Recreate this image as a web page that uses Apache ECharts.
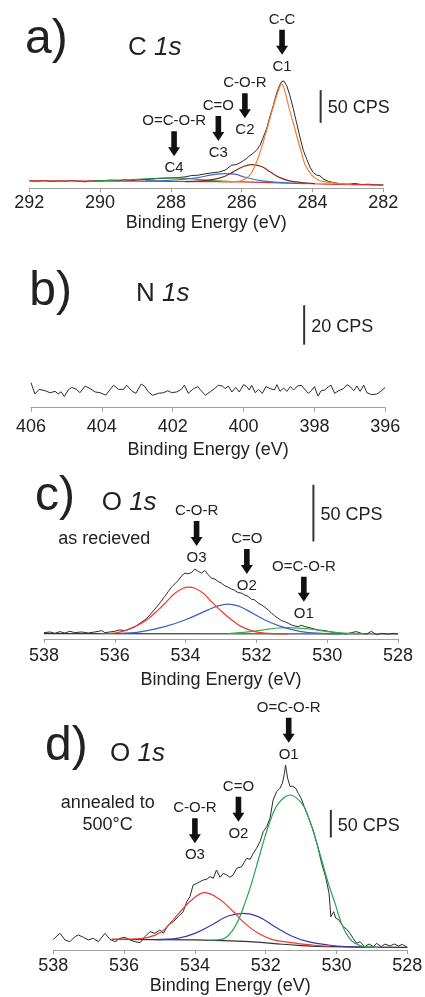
<!DOCTYPE html>
<html>
<head>
<meta charset="utf-8">
<script src="https://cdn.jsdelivr.net/npm/echarts@6.0.0/dist/echarts.min.js"></script>
<style>
  html, body { margin: 0; padding: 0; background: #fff; }
  #chart { width: 425px; height: 997px; }
</style>
</head>
<body>
<div id="chart"></div>
<script>
// ---- a) C 1s : [binding energy eV, counts per second] ----
var cSpectrum = [[292.00, 11.2], [291.75, 10.7], [291.56, 11.7], [291.37, 10.2], [291.18, 11.2], [290.99, 10.7], [290.80, 11.7], [290.62, 10.7], [290.43, 9.7], [290.24, 11.2], [290.05, 10.7], [289.86, 11.7], [289.67, 12.2], [289.49, 11.2], [289.30, 12.7], [289.11, 11.7], [288.92, 12.7], [288.73, 13.3], [288.54, 13.8], [288.36, 14.8], [288.17, 15.3], [287.98, 15.8], [287.79, 16.3], [287.60, 17.3], [287.41, 19.4], [287.23, 19.9], [287.04, 21.9], [286.85, 23.4], [286.66, 24.5], [286.47, 27.5], [286.34, 33], [286.28, 35.2], [286.14, 36.2], [286.05, 39], [285.95, 42], [285.86, 45.4], [285.77, 50], [285.71, 52], [285.58, 58], [285.48, 66], [285.39, 78], [285.29, 92], [285.20, 110], [285.10, 128], [285.01, 146], [284.94, 156], [284.87, 163], [284.81, 164], [284.73, 157], [284.64, 142], [284.54, 121], [284.45, 100], [284.35, 77], [284.26, 58], [284.16, 44], [284.07, 32], [283.98, 24], [283.88, 20], [283.79, 19], [283.69, 14], [283.55, 10.5], [283.41, 8.5], [283.37, 7.6], [283.18, 6.6], [282.99, 6.1], [282.80, 7.1], [282.61, 5.6], [282.42, 6.1], [282.24, 5.1], [282.00, 5.1]];
var cPeakC1 = [[286.6, 9.8], [286.24, 10.0], [286.0, 11.5], [285.77, 20], [285.62, 35], [285.5, 52], [285.39, 71], [285.25, 97], [285.12, 122], [284.97, 148], [284.87, 159], [284.78, 148], [284.66, 122], [284.53, 97], [284.40, 71], [284.30, 52], [284.21, 36], [284.02, 20], [283.85, 13], [283.69, 10], [283.22, 7], [282.9, 6.2]];
var cPeakC2 = [[287.60, 10.2], [287.13, 11.2], [286.76, 13.8], [286.47, 18.3], [286.24, 25.0], [286.00, 32.1], [285.72, 36.2], [285.44, 33.1], [285.20, 25.0], [284.97, 17.3], [284.68, 11.7], [284.31, 8.7], [283.93, 7.1]];
var cPeakC3 = [[288.73, 11.2], [288.17, 11.7], [287.70, 13.3], [287.23, 16.3], [286.85, 20.4], [286.47, 22.4], [286.19, 21.4], [285.91, 16.8], [285.53, 12.2], [285.15, 9.7], [284.68, 8.2], [284.21, 7.1]];
var cPeakC4 = [[290.2, 11.0], [289.77, 11.9], [289.11, 13.3], [288.54, 14.8], [287.98, 15.8], [287.51, 14.8], [287.13, 12.7], [286.76, 11.2], [286.28, 10.2]];
var cBackground = [[292, 11.2], [289, 10.8], [287, 10.2], [286, 9.6], [285.2, 8.6], [284.6, 7.6], [284.0, 6.8], [283.2, 6.0], [282, 4.8]];
var cArrowEnergy = [284.86, 285.91, 286.66, 287.91];
var cArrowTip = [204, 107, 72, 49];
var cArrowTop = ['C-C', 'C-O-R', 'C=O', 'O=C-O-R'];
var cArrowBottom = ['C1', 'C2', 'C3', 'C4'];

// ---- b) N 1s ----
var nSpectrum = [[406.00, 12.7], [405.89, 7.0], [405.77, 9.3], [405.60, 8.6], [405.46, 7.6], [405.32, 8.3], [405.23, 7.0], [405.15, 8.1], [405.06, 5.6], [404.95, 9.0], [404.85, 10.3], [404.71, 9.3], [404.62, 7.6], [404.47, 11.0], [404.33, 9.7], [404.19, 8.0], [404.05, 7.6], [403.89, 6.4], [403.67, 11.4], [403.53, 9.3], [403.39, 9.3], [403.30, 11.4], [403.16, 8.6], [403.04, 7.3], [402.89, 12.0], [402.80, 11.0], [402.69, 8.1], [402.57, 6.3], [402.40, 7.3], [402.26, 7.6], [402.14, 8.6], [402.03, 7.6], [401.89, 8.0], [401.76, 9.3], [401.67, 11.4], [401.56, 7.3], [401.41, 9.7], [401.29, 10.7], [401.23, 9.3], [401.08, 6.3], [400.94, 8.1], [400.82, 9.7], [400.71, 11.4], [400.60, 11.0], [400.52, 9.7], [400.43, 11.0], [400.33, 8.0], [400.22, 10.3], [400.12, 8.0], [400.00, 11.7], [399.91, 10.7], [399.84, 9.0], [399.77, 11.4], [399.67, 7.6], [399.58, 9.3], [399.47, 7.3], [399.37, 10.7], [399.25, 9.7], [399.13, 9.0], [399.06, 11.7], [398.97, 8.3], [398.87, 10.0], [398.78, 8.3], [398.68, 10.7], [398.59, 9.0], [398.48, 11.0], [398.37, 11.4], [398.26, 9.0], [398.17, 7.3], [398.07, 9.0], [398.00, 10.7], [397.90, 5.9], [397.81, 8.6], [397.71, 9.0], [397.60, 10.7], [397.53, 11.4], [397.43, 7.3], [397.32, 8.6], [397.18, 9.7], [397.08, 11.7], [396.99, 10.7], [396.89, 8.6], [396.80, 11.0], [396.71, 8.3], [396.61, 11.4], [396.52, 7.6], [396.38, 6.6], [396.24, 6.9], [396.11, 8.6], [396.00, 10.3]];

// ---- c) O 1s as recieved ----
var oSpectrum = [[538.00, 5.6], [537.83, 6.2], [537.69, 5.0], [537.55, 6.5], [537.41, 5.3], [537.27, 6.8], [537.13, 5.6], [536.94, 6.2], [536.75, 5.3], [536.56, 6.2], [536.37, 7.4], [536.28, 5.6], [536.14, 6.2], [536.00, 6.8], [535.86, 8.0], [535.71, 7.4], [535.57, 9.1], [535.43, 10.9], [535.29, 13.9], [535.15, 16.8], [535.01, 21.2], [534.87, 26.3], [534.73, 31.6], [534.59, 37.5], [534.49, 41.9], [534.40, 45.7], [534.30, 48.7], [534.21, 51.6], [534.11, 55.8], [534.02, 58.1], [533.93, 57.5], [533.83, 58.7], [533.74, 61.7], [533.64, 59.6], [533.55, 58.1], [533.46, 60.5], [533.36, 56.6], [533.27, 53.7], [533.17, 52.8], [533.08, 50.7], [532.99, 49.3], [532.89, 46.9], [532.80, 45.7], [532.70, 44.0], [532.61, 42.8], [532.52, 41.0], [532.42, 40.4], [532.33, 38.9], [532.23, 37.5], [532.14, 35.1], [532.05, 34.5], [531.95, 31.6], [531.86, 30.1], [531.76, 28.0], [531.67, 25.7], [531.57, 22.7], [531.48, 20.4], [531.39, 18.3], [531.29, 16.2], [531.20, 15.3], [531.10, 13.9], [531.01, 12.4], [530.92, 11.5], [530.82, 10.9], [530.73, 12.1], [530.63, 10.9], [530.54, 10.3], [530.40, 9.1], [530.26, 8.0], [530.07, 7.4], [529.88, 6.2], [529.74, 5.6], [529.60, 5.0], [529.46, 4.4], [529.32, 5.6], [529.18, 6.5], [529.03, 5.0], [528.89, 4.4], [528.75, 6.8], [528.61, 3.8], [528.47, 5.0], [528.28, 4.4], [528.14, 5.0], [528.00, 4.4]];
var oPeakO3 = [[536.37, 4.7], [536.00, 5.3], [535.71, 7.4], [535.43, 10.9], [535.10, 16.8], [534.77, 25.7], [534.49, 34.5], [534.30, 40.4], [534.07, 44.8], [533.91, 45.7], [533.74, 44.8], [533.50, 40.4], [533.32, 34.5], [533.03, 25.7], [532.70, 16.8], [532.42, 10.9], [532.05, 6.5], [531.67, 5.0], [531.10, 4.6]];
var oPeakO2 = [[535.90, 4.8], [535.24, 6.5], [534.59, 10.9], [534.02, 16.8], [533.36, 25.7], [533.08, 29.2], [532.80, 30.7], [532.52, 29.2], [532.28, 25.7], [531.76, 16.8], [531.29, 10.9], [530.73, 6.5], [530.16, 5.0], [529.60, 4.6]];
var oPeakO1 = [[532.80, 4.7], [532.23, 6.2], [531.76, 8.3], [531.39, 9.7], [531.10, 10.0], [530.73, 9.4], [530.35, 8.3], [529.98, 6.5], [529.41, 5.0], [528.94, 4.6]];
var oBackground = [[538, 4.8], [528, 4.4]];
var oArrowEnergy = [533.69, 532.27, 530.66];
var oArrowTip = [82, 57.3, 32.9];
var oArrowTop = ['C-O-R', 'C=O', 'O=C-O-R'];
var oArrowBottom = ['O3', 'O2', 'O1'];

// ---- d) O 1s annealed to 500°C ----
var hSpectrum = [[538.00, 19.3], [537.81, 30.1], [537.67, 18.1], [537.53, 15.0], [537.39, 24.1], [537.29, 27.1], [537.15, 22.9], [537.01, 18.1], [536.87, 21.1], [536.73, 15.0], [536.54, 30.1], [536.40, 19.3], [536.26, 15.0], [536.12, 21.1], [535.98, 22.9], [535.83, 18.1], [535.69, 15.0], [535.55, 13.2], [535.41, 24.1], [535.27, 33.1], [535.13, 30.1], [534.99, 36.1], [534.89, 30.1], [534.75, 45.1], [534.61, 51.1], [534.47, 60.2], [534.33, 69.2], [534.23, 87.2], [534.14, 96.3], [534.05, 117.3], [533.95, 120.3], [533.86, 123.3], [533.76, 126.4], [533.67, 127.6], [533.57, 132.4], [533.48, 129.4], [533.39, 144.4], [533.29, 131.2], [533.20, 138.4], [533.10, 135.4], [533.01, 131.2], [532.92, 135.4], [532.82, 147.4], [532.68, 150.4], [532.54, 165.5], [532.44, 163.7], [532.35, 174.5], [532.26, 183.5], [532.16, 195.5], [532.07, 213.6], [531.97, 222.6], [531.88, 237.7], [531.79, 270.8], [531.69, 285.8], [531.60, 291.8], [531.53, 300.8], [531.47, 318.9], [531.44, 333.9], [531.38, 309.9], [531.31, 294.8], [531.25, 296.0], [531.15, 291.8], [531.08, 282.8], [531.00, 273.8], [530.91, 258.7], [530.80, 240.7], [530.66, 216.6], [530.53, 186.5], [530.42, 156.4], [530.31, 132.4], [530.21, 102.3], [530.16, 60.2], [530.08, 69.2], [530.02, 57.2], [529.95, 55.4], [529.87, 48.1], [529.81, 42.1], [529.71, 37.3], [529.62, 30.1], [529.53, 21.1], [529.43, 12.0], [529.34, 15.0], [529.20, 6.0], [529.08, 10.8], [528.96, 6.0], [528.87, 12.0], [528.73, 6.0], [528.63, 10.8], [528.49, 7.2], [528.37, 10.8], [528.25, 7.2], [528.14, 10.2], [528.00, 4.8]];
var hPeakO1 = [[533.6, 17.6], [533.34, 18.5], [533.15, 21.1], [532.96, 33.1], [532.77, 54.2], [532.59, 84.2], [532.40, 120.3], [532.21, 162.5], [532.02, 204.6], [531.83, 240.7], [531.64, 264.7], [531.31, 279.8], [530.98, 264.7], [530.80, 240.7], [530.61, 204.6], [530.42, 162.5], [530.23, 120.3], [530.04, 84.2], [529.86, 48.1], [529.67, 24.1], [529.48, 12.0], [529.20, 6.0], [528.82, 4.8]];
var hPeakO3 = [[536.35, 19.3], [535.79, 19.5], [535.32, 22.9], [534.94, 33.1], [534.66, 51.1], [534.37, 72.2], [534.09, 90.3], [533.73, 103.5], [533.34, 93.3], [532.96, 72.2], [532.59, 48.1], [532.21, 30.1], [531.83, 19.3], [531.27, 13.2], [530.70, 9.0], [530.2, 6.5]];
var hPeakO2 = [[535.13, 18.8], [534.47, 21.5], [534.00, 30.1], [533.53, 45.1], [533.06, 61.4], [532.63, 66.2], [532.21, 60.2], [531.74, 42.1], [531.27, 25.3], [530.80, 15.0], [530.23, 9.0], [529.76, 6.0], [529.2, 5.2]];
var hBackground = [[536.35, 19.3], [534.0, 18.1], [532.59, 15.6], [531.83, 12.0], [531.08, 8.4], [530.23, 6.0], [528.0, 4.8]];
var hArrowEnergy = [531.35, 532.77, 534.0];
var hArrowTip = [374, 231.6, 192.6];
var hArrowTop = ['O=C-O-R', 'C=O', 'C-O-R'];
var hArrowBottom = ['O1', 'O2', 'O3'];

// scale bars: [energy, from cps, to cps]
var scaleBars = [[283.77, 100, 150], [398.29, 32, 52], [530.39, 86, 136], [530.16, 203, 253]];
var scaleLabels = ['50 CPS', '20 CPS', '50 CPS', '50 CPS'];
var axisRanges = [[282, 292], [396, 406], [528, 538], [528, 538]];

var FONT = '"Liberation Sans", Arial, sans-serif';
var TXT = '#222';

// 每个面板的位置和纵向比例 (px per CPS)
var panels = [
  { left: 29.3, right: 41.7, axisY: 188.2, pxPerCps: 0.654, maxCps: 250, labelMargin: 6, nameGap: 26 },
  { left: 31, right: 39.7, axisY: 407.7, pxPerCps: 1.97, maxCps: 50, labelMargin: 10, nameGap: 33 },
  { left: 44, right: 27, axisY: 639, pxPerCps: 1.134, maxCps: 120, labelMargin: 8, nameGap: 32 },
  { left: 53.3, right: 17.7, axisY: 950, pxPerCps: 0.554, maxCps: 360, labelMargin: 7, nameGap: 27 }
];

var myChart = echarts.init(document.getElementById('chart'));

function line(idx, data, color, width, smooth) {
  return {
    type: 'line', xAxisIndex: idx, yAxisIndex: idx, data: data,
    symbol: 'none', smooth: smooth, silent: true, clip: false,
    lineStyle: { color: color, width: width }
  };
}

function arrows(idx, energy, tip, topLabels, bottomLabels) {
  var data = energy.map(function (e, i) { return [e, tip[i]]; });
  return {
    type: 'custom', xAxisIndex: idx, yAxisIndex: idx, clip: false, silent: true, z: 10,
    data: data,
    renderItem: function (params, api) {
      var p = api.coord([api.value(0), api.value(1)]);
      var x = p[0], y = p[1];
      var L = 25, sw = 2.8, hw = 6, hl = 9;
      return {
        type: 'group',
        children: [
          { type: 'polygon', shape: { points: [[x - sw, y - L], [x + sw, y - L], [x + sw, y - hl], [x + hw, y - hl], [x, y], [x - hw, y - hl], [x - sw, y - hl]] }, style: { fill: '#111' } },
          { type: 'text', style: { x: x, y: y - 35, text: topLabels[params.dataIndex], font: '15px ' + FONT, fill: TXT, align: 'center', verticalAlign: 'middle', textAlign: 'center', textVerticalAlign: 'middle' } },
          { type: 'text', style: { x: x, y: y + 12, text: bottomLabels[params.dataIndex], font: '15px ' + FONT, fill: TXT, align: 'center', verticalAlign: 'middle', textAlign: 'center', textVerticalAlign: 'middle' } }
        ]
      };
    }
  };
}

function scaleBar(idx) {
  return {
    type: 'custom', xAxisIndex: idx, yAxisIndex: idx, clip: false, silent: true, z: 10,
    data: [scaleBars[idx]],
    renderItem: function (params, api) {
      var p0 = api.coord([api.value(0), api.value(1)]);
      var p1 = api.coord([api.value(0), api.value(2)]);
      return {
        type: 'group',
        children: [
          { type: 'line', shape: { x1: p0[0], y1: p0[1], x2: p1[0], y2: p1[1] }, style: { stroke: '#333', lineWidth: 2 } },
          { type: 'text', style: { x: p0[0] + 7, y: (p0[1] + p1[1]) / 2 + 2, text: scaleLabels[idx], font: '18px ' + FONT, fill: TXT, align: 'left', verticalAlign: 'middle', textAlign: 'left', textVerticalAlign: 'middle' } }
        ]
      };
    }
  };
}

var grids = [], xAxes = [], yAxes = [];
panels.forEach(function (p, i) {
  var h = p.pxPerCps * p.maxCps;
  grids.push({ left: p.left, right: p.right, top: p.axisY - h, height: h, containLabel: false, outerBoundsMode: 'none' });
  xAxes.push({
    type: 'value', gridIndex: i, inverse: true,
    min: axisRanges[i][0], max: axisRanges[i][1], interval: 2,
    name: 'Binding Energy (eV)', nameLocation: 'middle', nameGap: p.nameGap,
    nameTextStyle: { fontSize: 18, color: TXT, fontFamily: FONT },
    axisLine: { lineStyle: { color: '#a0a0a0', width: 1 } },
    axisTick: { show: true, inside: false, length: 4, lineStyle: { color: '#a0a0a0' } },
    axisLabel: { fontSize: 18, color: TXT, fontFamily: FONT, margin: p.labelMargin },
    splitLine: { show: false }
  });
  yAxes.push({ type: 'value', gridIndex: i, min: 0, max: p.maxCps, show: false });
});

var series = [
  line(0, cSpectrum, '#2b2b2b', 1, false),
  line(0, cBackground, '#d9342b', 1.2, true),
  line(0, cPeakC4, '#2f8f3f', 1.2, 0.4),
  line(0, cPeakC3, '#3a6cd2', 1.2, 0.4),
  line(0, cPeakC2, '#8a2a1c', 1.2, 0.4),
  line(0, cPeakC1, '#f28131', 1.2, 0.4),
  arrows(0, cArrowEnergy, cArrowTip, cArrowTop, cArrowBottom),
  scaleBar(0),

  line(1, nSpectrum, '#2b2b2b', 1, false),
  scaleBar(1),

  line(2, oSpectrum, '#2b2b2b', 1, false),
  line(2, oBackground, '#333', 1.2, false),
  line(2, oPeakO1, '#35b34a', 1.2, 0.4),
  line(2, oPeakO2, '#3a62c4', 1.2, 0.4),
  line(2, oPeakO3, '#ef3b2c', 1.2, 0.4),
  arrows(2, oArrowEnergy, oArrowTip, oArrowTop, oArrowBottom),
  scaleBar(2),

  line(3, hSpectrum, '#2b2b2b', 1, false),
  line(3, hBackground, '#333', 1.2, true),
  line(3, hPeakO2, '#3a3aa6', 1.2, 0.4),
  line(3, hPeakO3, '#ef3b2c', 1.2, 0.4),
  line(3, hPeakO1, '#22a64e', 1.2, 0.4),
  arrows(3, hArrowEnergy, hArrowTip, hArrowTop, hArrowBottom),
  scaleBar(3)
];

function heading(x, y, letter, element, elX, elY) {
  return [
    { type: 'text', x: x, y: y, style: { text: letter, font: '48px ' + FONT, fill: TXT, align: 'left', verticalAlign: 'middle', textAlign: 'left', textVerticalAlign: 'middle' } },
    { type: 'text', x: elX, y: elY, style: {
      text: '{r|' + element + ' }{i|1s}', fill: TXT, align: 'left', verticalAlign: 'middle', textAlign: 'left', textVerticalAlign: 'middle',
      rich: { r: { fontSize: 26, fontFamily: FONT, color: TXT }, i: { fontSize: 26, fontStyle: 'italic', fontFamily: FONT, color: TXT } }
    } }
  ];
}

var graphic = [].concat(
  heading(25, 40, 'a)', 'C', 128, 47.6),
  heading(29.3, 291.5, 'b)', 'N', 136, 294.2),
  heading(35, 496.5, 'c)', 'O', 101.7, 502.6),
  heading(45, 746.5, 'd)', 'O', 110, 754.2),
  [
    { type: 'text', x: 104.3, y: 539.3, style: { text: 'as recieved', font: '18px ' + FONT, fill: TXT, align: 'center', verticalAlign: 'middle', textAlign: 'center', textVerticalAlign: 'middle' } },
    { type: 'text', x: 107.7, y: 803.3, style: { text: 'annealed to', font: '18px ' + FONT, fill: TXT, align: 'center', verticalAlign: 'middle', textAlign: 'center', textVerticalAlign: 'middle' } },
    { type: 'text', x: 107.7, y: 825, style: { text: '500°C', font: '18px ' + FONT, fill: TXT, align: 'center', verticalAlign: 'middle', textAlign: 'center', textVerticalAlign: 'middle' } }
  ]
);

var option = {
  animation: false,
  backgroundColor: '#fff',
  textStyle: { fontFamily: FONT },
  grid: grids,
  xAxis: xAxes,
  yAxis: yAxes,
  series: series,
  graphic: graphic
};
myChart.setOption(option);

window.addEventListener('resize', function () {
  myChart.resize();
});
</script>
</body>
</html>
